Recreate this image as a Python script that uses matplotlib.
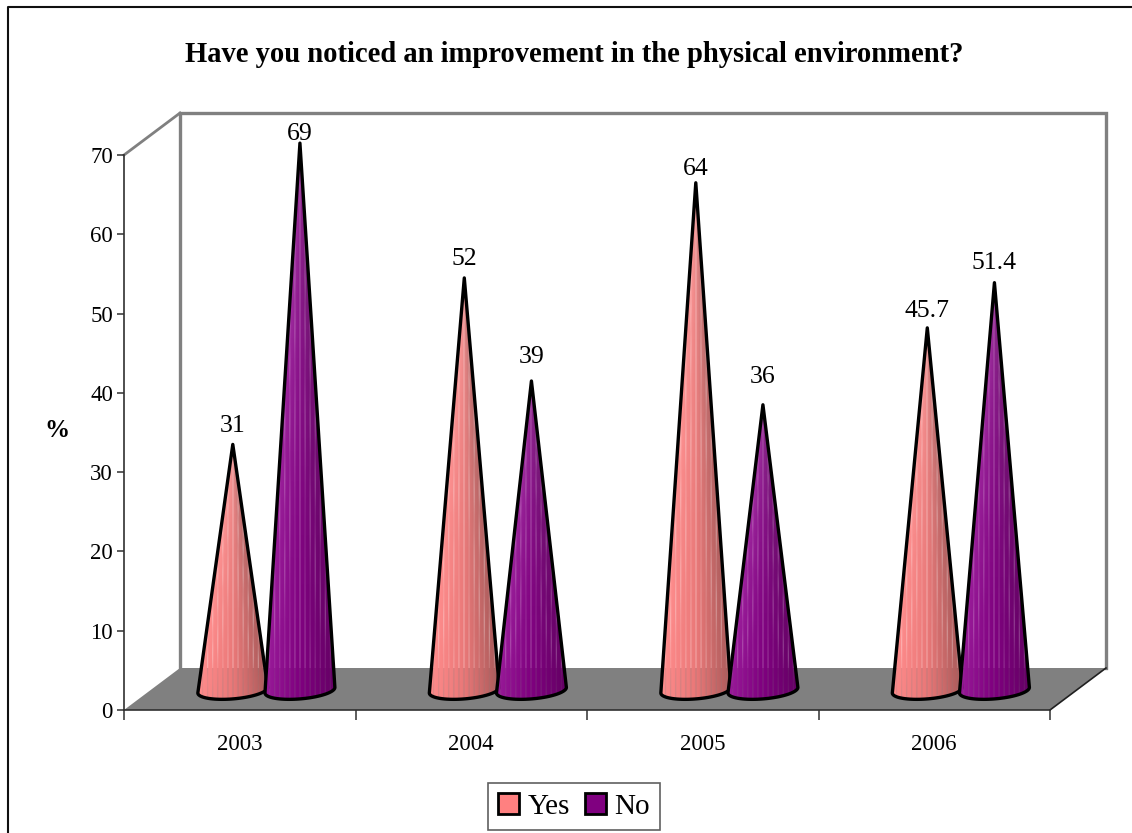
import numpy as np
import matplotlib
matplotlib.use("Agg")
from matplotlib import pyplot as plt
from matplotlib.patches import Polygon, Patch
from matplotlib.lines import Line2D

plt.rcParams['font.family'] = ['Liberation Serif', 'DejaVu Serif']

years = ['2003', '2004', '2005', '2006']
yes_vals = [31, 52, 64, 45.7]
no_vals = [69, 39, 36, 51.4]
yes_labels = ['31', '52', '64', '45.7']
no_labels = ['69', '39', '36', '51.4']
# how far above the tip each label sits, in points
yes_gaps = [5, 6, 2, 4]
no_gaps = [-1, 9, 12, 6]

W, H = 1132, 833
fig = plt.figure(figsize=(W / 100, H / 100), dpi=100)
ax = fig.add_axes([124 / W, 1 - 710 / H, 926 / W, 555 / H])
ax.set_xlim(-0.5, 3.5)
ax.set_ylim(0, 70)

# depth of the fake 3d box in data units
dx = 56 / 231.5
dy = 42 / 7.93
top = 70 + dy
wall = '#808080'


def cone_texture(left, mid, right, gap):
    # columns = position across the cone, rows = from tip to base
    v, u = np.mgrid[0.01:1:500j, -1:1:280j]
    side = np.clip(u / v, -1, 1)
    img = np.zeros(v.shape + (4,))
    for i in range(3):
        img[..., i] = np.interp(side, [-1, 0, 1], [left[i], mid[i], right[i]])
    # thin vertical slits let the background through, fan shaped bands give the moire
    slits = np.clip(np.cos(u * 2 * np.pi / 0.145), 0, 1) ** 10
    fan = 0.7 + 0.3 * np.cos(side * 44)
    img[..., 3] = 1 - gap * slits * fan - 0.18 * (1 - v) ** 2
    return img


def draw_cone(xc, val, cols, gap, z):
    hw = 0.151
    base_y = dy / 2 - 0.15
    t = np.linspace(0, np.pi, 50)
    ex = xc + hw * np.cos(t)
    ey = base_y - 1.1 * np.sin(t) + 0.35 * np.cos(t)
    pts = np.column_stack([np.r_[xc, ex], np.r_[base_y + val, ey]])
    img = cone_texture(*cols, gap)
    im = ax.imshow(img, extent=[xc - hw, xc + hw, base_y - 1.5, base_y + val],
                   aspect='auto', zorder=z, origin='upper', interpolation='auto',
                   interpolation_stage='rgba')
    poly = Polygon(pts, closed=True, fc='none', ec='black', lw=2.4,
                   joinstyle='round', zorder=z + 0.5, clip_on=False)
    ax.add_patch(poly)
    im.set_clip_path(poly)
    return base_y + val


# floor and walls
ax.add_patch(Polygon([(-0.5, 0), (3.5, 0), (3.5 + dx, dy), (-0.5 + dx, dy)], closed=True,
                     fc=wall, ec='none', clip_on=False, zorder=1))
ax.plot([-0.5 + dx, -0.5 + dx, 3.5 + dx, 3.5 + dx], [dy, top, top, dy], color=wall,
        lw=2.4, clip_on=False, zorder=1, solid_joinstyle='miter')
ax.plot([-0.5, -0.5 + dx], [70, top], color=wall, lw=2, clip_on=False, zorder=1)
ax.plot([3.5, 3.5 + dx], [0, dy], color='#202020', lw=1.2, clip_on=False, zorder=2)

pink = ((1.0, 0.55, 0.55), (0.92, 0.47, 0.47), (0.68, 0.36, 0.36))
purple = ((0.60, 0.10, 0.60), (0.50, 0.0, 0.50), (0.40, 0.0, 0.40))
z = 3
for i in range(len(years)):
    xc = i + dx / 2
    x_yes = xc - 0.151
    x_no = xc + 0.139
    y1 = draw_cone(x_yes, yes_vals[i], pink, 0.6, z)
    y2 = draw_cone(x_no, no_vals[i], purple, 0.45, z + 1)
    z += 2
    ax.annotate(yes_labels[i], (x_yes, y1), xytext=(0, yes_gaps[i]), textcoords='offset points',
                ha='center', va='bottom', fontsize=18.5, zorder=20, annotation_clip=False)
    ax.annotate(no_labels[i], (x_no, y2), xytext=(0, no_gaps[i]), textcoords='offset points',
                ha='center', va='bottom', fontsize=18.5, zorder=20, annotation_clip=False)

ax.set_xlim(-0.5, 3.5)
ax.set_ylim(0, 70)
ax.patch.set_alpha(0)
for s in ('top', 'right'):
    ax.spines[s].set_visible(False)
for s in ('left', 'bottom'):
    ax.spines[s].set_color('#303030')
    ax.spines[s].set_linewidth(1.2)
    ax.spines[s].set_zorder(2)

ax.set_yticks(range(0, 71, 10))
ax.tick_params(axis='y', labelsize=16.5, length=5, width=1.1, color='#303030', pad=3)
ax.set_xticks(np.arange(-0.5, 3.6, 1))
ax.set_xticklabels([])
ax.tick_params(axis='x', which='major', length=7, width=1.1, color='#303030')
ax.set_xticks(range(4), minor=True)
ax.set_xticklabels(years, minor=True, fontsize=16.5)
ax.tick_params(axis='x', which='minor', length=0, pad=17)

fig.text(574 / W, 1 - 54 / H, 'Have you noticed an improvement in the physical environment?',
         ha='center', va='center', fontsize=20.6, fontweight='bold')
fig.text(57 / W, 1 - 430 / H, '%', ha='center', va='center', fontsize=18, fontweight='bold')

# chart area border: only top and left show in the picture
fig.add_artist(Line2D([8 / W, 8 / W, 1], [0, 1 - 7 / H, 1 - 7 / H], color='#101010', lw=1.5,
                      transform=fig.transFigure))

handles = [Patch(fc='#ff8080', ec='black', lw=2, label='Yes'),
           Patch(fc='#800080', ec='black', lw=2, label='No')]
leg = fig.legend(handles=handles, loc='lower center', bbox_to_anchor=(574 / W, 1 - 830 / H),
                 ncol=2, fontsize=21, frameon=True, fancybox=False, edgecolor='#606060',
                 framealpha=1, handlelength=0.72, handleheight=0.72, handletextpad=0.3,
                 columnspacing=0.5, borderpad=0.35, borderaxespad=0)
leg.get_frame().set_linewidth(1.2)

fig.savefig('out.png', dpi=100)
